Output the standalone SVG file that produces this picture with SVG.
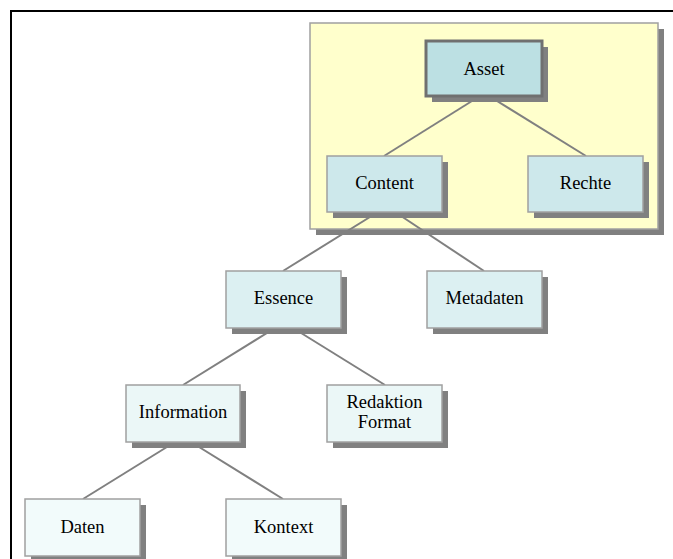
<svg xmlns="http://www.w3.org/2000/svg" width="673" height="559" viewBox="0 0 673 559">
  <style>
    .shadow { fill: #808080; }
    .box { stroke: #a0a0a0; stroke-width: 1.5; }
    .root { fill: #bce0e3; stroke: #707070; stroke-width: 3; }
    .l1 { fill: #cde8eb; }
    .l2 { fill: #dcf0f2; }
    .l3 { fill: #ebf7f7; }
    .l4 { fill: #f2fbfb; }
    .lbl { font-size: 18.5px; fill: #000; text-anchor: middle; }
    .edge { stroke: #808080; stroke-width: 2; fill: none; }
  </style>

  <!-- page frame: top and left rule -->
  <g id="frame" stroke="#000" stroke-width="2">
    <line x1="10" y1="11" x2="673" y2="11"/>
    <line x1="11" y1="10" x2="11" y2="559"/>
  </g>

  <!-- highlighted asset area -->
  <g id="asset-area">
    <rect class="shadow" x="316" y="29" width="348" height="206"/>
    <rect x="310" y="23" width="348" height="206" fill="#ffffcc" stroke="#a0a0a0" stroke-width="1.5"/>
  </g>

  <g id="connectors" class="edge">
    <line x1="480" y1="96" x2="384" y2="156"/>
    <line x1="489" y1="96" x2="586" y2="156"/>
    <line x1="378" y1="212" x2="283" y2="271"/>
    <line x1="395" y1="212" x2="484" y2="271"/>
    <line x1="275" y1="328" x2="183" y2="385"/>
    <line x1="293" y1="328" x2="385" y2="385"/>
    <line x1="175" y1="442" x2="83" y2="499"/>
    <line x1="191" y1="442" x2="283" y2="499"/>
  </g>

  <g id="nodes" font-family="'Liberation Serif', 'Times New Roman', Times, serif">
    <g id="asset">
      <rect class="shadow" x="432" y="47" width="116" height="55"/>
      <rect class="root" x="426" y="41" width="116" height="55"/>
      <text class="lbl" x="484" y="75">Asset</text>
    </g>

    <g id="content">
      <rect class="shadow" x="333" y="162" width="115" height="56"/>
      <rect class="box l1" x="327" y="156" width="115" height="56"/>
      <text class="lbl" x="384.5" y="189">Content</text>
    </g>

    <g id="rechte">
      <rect class="shadow" x="534" y="162" width="115" height="56"/>
      <rect class="box l1" x="528" y="156" width="115" height="56"/>
      <text class="lbl" x="585.5" y="189">Rechte</text>
    </g>

    <g id="essence">
      <rect class="shadow" x="232" y="277" width="115" height="57"/>
      <rect class="box l2" x="226" y="271" width="115" height="57"/>
      <text class="lbl" x="283.5" y="304">Essence</text>
    </g>

    <g id="metadaten">
      <rect class="shadow" x="433" y="277" width="115" height="57"/>
      <rect class="box l2" x="427" y="271" width="115" height="57"/>
      <text class="lbl" x="484.5" y="304">Metadaten</text>
    </g>

    <g id="information">
      <rect class="shadow" x="132" y="391" width="114" height="57"/>
      <rect class="box l3" x="126" y="385" width="114" height="57"/>
      <text class="lbl" x="183" y="418">Information</text>
    </g>

    <g id="redaktion-format">
      <rect class="shadow" x="333" y="391" width="115" height="57"/>
      <rect class="box l3" x="327" y="385" width="115" height="57"/>
      <text class="lbl" x="384.5" y="408">Redaktion</text>
      <text class="lbl" x="384.5" y="428">Format</text>
    </g>

    <g id="daten">
      <rect class="shadow" x="31" y="505" width="115" height="57"/>
      <rect class="box l4" x="25" y="499" width="115" height="57"/>
      <text class="lbl" x="82.5" y="533">Daten</text>
    </g>

    <g id="kontext">
      <rect class="shadow" x="232" y="505" width="115" height="57"/>
      <rect class="box l4" x="226" y="499" width="115" height="57"/>
      <text class="lbl" x="283.5" y="533">Kontext</text>
    </g>
  </g>
</svg>
